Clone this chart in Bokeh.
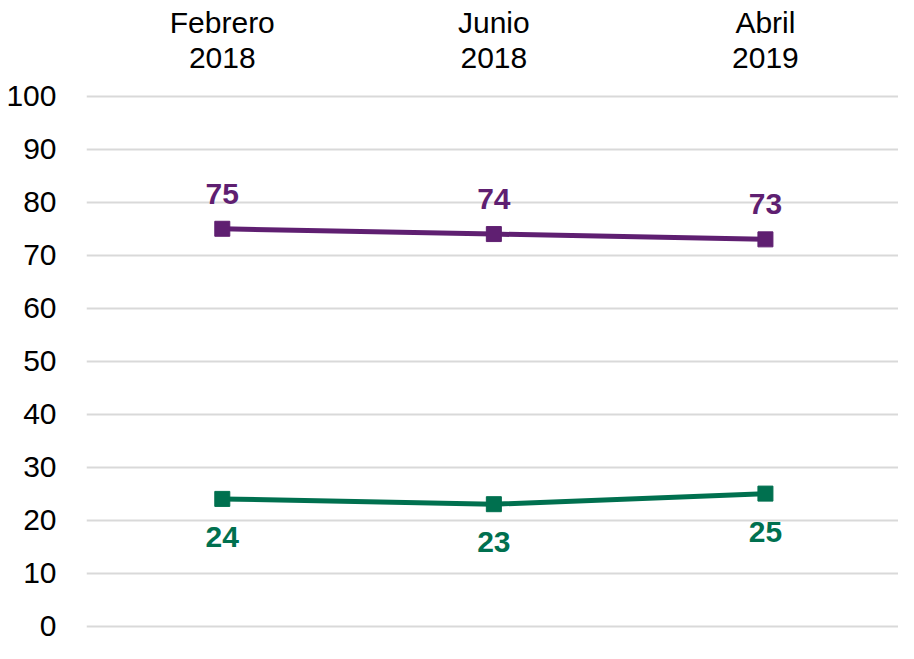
from bokeh.plotting import figure
from bokeh.models import FixedTicker, Range1d
from bokeh.core.properties import value
from bokeh.embed import file_html
from bokeh.resources import INLINE

months = ["Febrero", "Junio", "Abril"]
years = ["2018", "2018", "2019"]
serie_a = [75, 74, 73]
serie_b = [24, 23, 25]
y_ticks = [0, 10, 20, 30, 40, 50, 60, 70, 80, 90, 100]

PURPLE = "#5f1f71"
GREEN = "#00704f"
FONT = "Liberation Sans"

xs = list(range(len(months)))

p = figure(width=898, height=643, output_backend="svg", toolbar_location=None,
           x_range=Range1d(-0.5, 2.49), y_range=Range1d(-3.3, 118.1),
           min_border_left=86, min_border_right=0, min_border_top=0, min_border_bottom=0)
p.outline_line_color = None
p.background_fill_color = "white"
p.border_fill_color = "white"

p.xaxis.visible = False
p.xgrid.visible = False
p.yaxis.ticker = FixedTicker(ticks=y_ticks)
p.yaxis.axis_line_color = None
p.yaxis.major_tick_line_color = None
p.yaxis.minor_tick_line_color = None
p.yaxis.major_label_text_font = FONT
p.yaxis.major_label_text_font_size = "30px"
p.yaxis.major_label_text_color = "black"
p.yaxis.major_label_standoff = 24
p.ygrid.ticker = FixedTicker(ticks=y_ticks)
p.ygrid.grid_line_color = "#d9d9d9"
p.ygrid.grid_line_width = 2

# category labels at top
p.text(x=xs, y=[113.9] * 3, text=months, text_font=value(FONT), text_font_size="30px",
       text_align="center", text_baseline="middle", text_color="black")
p.text(x=xs, y=[107.3] * 3, text=years, text_font=value(FONT), text_font_size="30px",
       text_align="center", text_baseline="middle", text_color="black")

for vals, col, off in [(serie_a, PURPLE, -35), (serie_b, GREEN, 38)]:
    p.line(xs, vals, line_color=col, line_width=5)
    p.scatter(xs, vals, marker="square", size=15, fill_color=col, line_color=col)
    p.text(x=xs, y=vals, text=[str(v) for v in vals], y_offset=off,
           text_font=value(FONT), text_font_size="30px", text_font_style="bold",
           text_align="center", text_baseline="middle", text_color=col)

open("out.html", "w").write(file_html(p, INLINE))
